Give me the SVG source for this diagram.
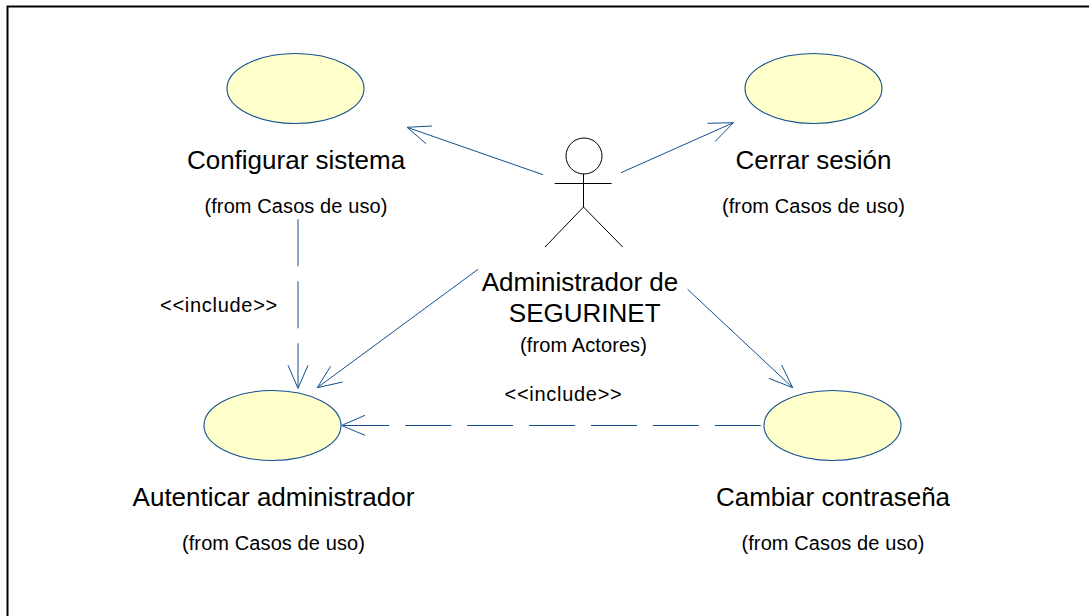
<svg xmlns="http://www.w3.org/2000/svg" width="1089" height="616" viewBox="0 0 1089 616">
<style>
.uc{fill:#ffffcc;stroke:#134f8f;stroke-width:1.1}
.c{fill:none;stroke:#134f8f;stroke-width:1}
.a{fill:none;stroke:#000;stroke-width:1}
text{font-family:"Liberation Sans",Arial,sans-serif;fill:#000;text-anchor:middle}
.n{font-size:26px}
.f{font-size:20px;letter-spacing:.1px}
.i{font-size:20px;letter-spacing:.7px}
</style>
<rect width="1089" height="616" fill="#fff"/>
<path d="M7.500 616V6.500H1089" fill="none" stroke="#000" stroke-width="2"/>
<g id="connectors">
<path class="c" d="M543 174.700L407 127.300M432 126L407 127.300L426 143.700"/>
<path class="c" d="M621 172.700L733.400 122.700M707.400 123.300L733.400 122.700L715 141.700"/>
<path class="c" d="M478 269.300L317.300 387.700M330.600 366.300L317.300 387.700L342.700 382"/>
<path class="c" d="M687.600 289.300L792.700 387.700M781.600 365L792.700 387.700L768.800 378.300"/>
<path class="c" d="M298 219.300V388.300" stroke-dasharray="47 15"/>
<path class="c" d="M288 365.300L298 388.300L308 365.300"/>
<path class="c" d="M760.800 425.500H341.500" stroke-dasharray="46 15.900"/>
<path class="c" d="M365 415.300L341.500 425.500L365 435.300"/>
</g>
<g id="uc-configurar">
<ellipse class="uc" cx="295.500" cy="88.500" rx="68.500" ry="35"/>
<text class="n" x="296" y="168.500">Configurar sistema</text>
<text class="f" x="296" y="212.500">(from Casos de uso)</text>
</g>
<g id="uc-cerrar">
<ellipse class="uc" cx="813.500" cy="88.500" rx="68.500" ry="35"/>
<text class="n" x="813.500" y="168.500">Cerrar sesión</text>
<text class="f" x="813.500" y="212.500">(from Casos de uso)</text>
</g>
<g id="uc-autenticar">
<ellipse class="uc" cx="272.500" cy="425.500" rx="68.500" ry="35"/>
<text class="n" x="273.500" y="505.500">Autenticar administrador</text>
<text class="f" x="273.500" y="549.500">(from Casos de uso)</text>
</g>
<g id="uc-cambiar">
<ellipse class="uc" cx="832.500" cy="425.500" rx="68.500" ry="35"/>
<text class="n" x="833" y="505.500">Cambiar contraseña</text>
<text class="f" x="833" y="549.500">(from Casos de uso)</text>
</g>
<g id="actor">
<ellipse class="a" cx="584" cy="156" rx="18" ry="18"/>
<path class="a" d="M554.700 183.500H611.600M583.500 174V207M583.500 207L545 247M583.500 207L622.700 247"/>
<text class="n" x="580" y="290.500">Administrador de</text>
<text class="n" x="584.700" y="322">SEGURINET</text>
<text class="f" x="583.500" y="351.500">(from Actores)</text>
</g>
<text class="i" x="219" y="311.500">&lt;&lt;include&gt;&gt;</text>
<text class="i" x="563.500" y="400.500">&lt;&lt;include&gt;&gt;</text>
</svg>
